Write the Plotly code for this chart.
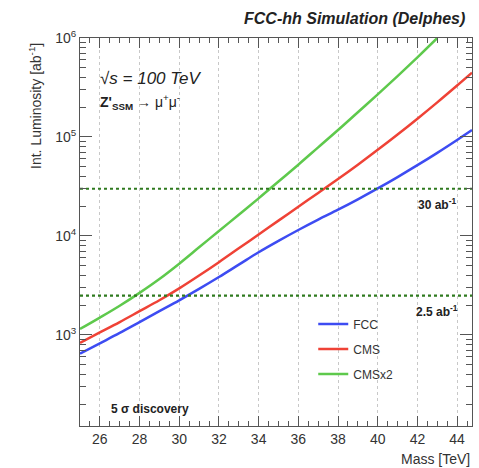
import math
import plotly.graph_objects as go

mass = [25, 26, 27, 28, 29, 30, 31, 32, 33, 34, 35, 36, 37, 38, 39, 40, 41, 42, 43, 44, 44.75]
fcc = [646, 822, 1047, 1349, 1738, 2239, 2917, 3846, 5129, 6839, 8913, 11482, 14622,
       18408, 23442, 30200, 39355, 51880, 69183, 93325, 117490]
cms = [832, 1059, 1349, 1738, 2239, 2951, 3981, 5433, 7499, 10351, 14289, 19724, 27227,
       37584, 52481, 74131, 105925, 153109, 223872, 331131, 446684]
mass_x2 = [25, 26, 27, 28, 29, 30, 31, 32, 33, 34, 35, 36, 37, 38, 39, 40, 41, 42, 43]
cmsx2 = [1148, 1496, 1972, 2661, 3673, 5248, 7674, 11220, 16406, 23988, 35481, 52481,
         78524, 117490, 177828, 269153, 412098, 638263, 1000000]

lumi_lines = [30000, 2500]
lumi_labels = ["30 ab<sup>-1</sup>", "2.5 ab<sup>-1</sup>"]

x_ticks = [26, 28, 30, 32, 34, 36, 38, 40, 42, 44]
y_ticks = [1e3, 1e4, 1e5, 1e6]
y_ticktext = ["10<sup>3</sup>", "10<sup>4</sup>", "10<sup>5</sup>", "10<sup>6</sup>"]
y_minor = [m * 10 ** e for e in range(2, 6) for m in range(2, 10)]

FONT = "Liberation Sans, Arial, Helvetica, sans-serif"

fig = go.Figure()
fig.add_trace(go.Scatter(x=mass, y=fcc, mode="lines", name="FCC", legendgroup="a",
                         line=dict(color="#3d4cf2", width=2.5, shape="spline", smoothing=1)))
fig.add_trace(go.Scatter(x=mass, y=cms, mode="lines", name="CMS", legendgroup="b",
                         line=dict(color="#ef4236", width=2.5, shape="spline", smoothing=1)))
fig.add_trace(go.Scatter(x=mass_x2, y=cmsx2, mode="lines", name="CMSx2", legendgroup="c",
                         line=dict(color="#5ec94c", width=2.5, shape="spline", smoothing=1)))

for v, lab in zip(lumi_lines, lumi_labels):
    fig.add_trace(go.Scatter(x=[25, 44.75], y=[v, v], mode="lines", showlegend=False,
                             line=dict(color="#2f7a1f", width=2.2, dash="dot")))
    fig.add_annotation(x=43.0, y=math.log10(v), xref="x", yref="y", yshift=-15,
                       text="<b>%s</b>" % lab,
                       showarrow=False, xanchor="center", yanchor="middle",
                       font=dict(size=12, color="#222", family=FONT))

fig.update_layout(
    width=479, height=468,
    margin=dict(l=80, r=7, t=38, b=42),
    paper_bgcolor="white", plot_bgcolor="white",
    font=dict(family=FONT, color="#333", size=14),
    legend=dict(x=0.595, y=0.3, xanchor="left", yanchor="top",
                bgcolor="rgba(0,0,0,0)", font=dict(size=12, color="#333"),
                itemwidth=30, tracegroupgap=6),
)

fig.update_xaxes(
    range=[25, 44.75], tickvals=x_ticks, ticks="inside", ticklen=10, tickcolor="#555",
    showline=True, linecolor="#555", linewidth=1, mirror="ticks",
    showgrid=True, gridcolor="#c8c8c8", griddash="dot", gridwidth=1,
    tickfont=dict(size=14, color="#333"), zeroline=False,
    minor=dict(dtick=0.5, tick0=25, ticks="inside", ticklen=5, tickcolor="#555", showgrid=False),
)
fig.update_yaxes(
    type="log", range=[2.08, 6.0], tickvals=y_ticks, ticktext=y_ticktext,
    ticks="inside", ticklen=12, tickcolor="#555",
    showline=True, linecolor="#555", linewidth=1, mirror="ticks",
    showgrid=False, tickfont=dict(size=14, color="#333"), zeroline=False,
    minor=dict(tickvals=y_minor, ticks="inside", ticklen=6, tickcolor="#555", showgrid=False),
)

fig.add_annotation(x=1.0, y=1.0, xref="paper", yref="paper", yshift=30, xshift=-5,
                   text="<b><i>FCC-hh Simulation (Delphes)</i></b>", showarrow=False,
                   xanchor="right", yanchor="top", font=dict(size=16, color="#222", family=FONT))
fig.add_annotation(x=0.045, y=0.895, xref="paper", yref="paper",
                   text="<i>\u221As = 100 TeV</i>", showarrow=False,
                   xanchor="left", yanchor="middle", font=dict(size=17, color="#222", family=FONT))
fig.add_annotation(x=0.045, y=0.835, xref="paper", yref="paper",
                   text="<b>Z'</b><sub><b>SSM</b></sub> \u2192 \u03bc<sup>+</sup>\u03bc<sup>-</sup>",
                   showarrow=False, xanchor="left", yanchor="middle",
                   font=dict(size=14, color="#222", family=FONT))
fig.add_annotation(x=0.075, y=0.045, xref="paper", yref="paper",
                   text="<b>5 \u03c3 discovery</b>", showarrow=False,
                   xanchor="left", yanchor="middle", font=dict(size=12, color="#222", family=FONT))
fig.add_annotation(x=1.0, y=0, xref="paper", yref="paper", yshift=-23,
                   text="Mass [TeV]", showarrow=False, xanchor="right", yanchor="top",
                   font=dict(size=14, color="#333", family=FONT))
fig.add_annotation(x=0, y=1.0, xref="paper", yref="paper", xshift=-45, yshift=-3,
                   text="Int. Luminosity [ab<sup>-1</sup>]", showarrow=False, textangle=-90,
                   xanchor="center", yanchor="top", font=dict(size=14, color="#333", family=FONT))

fig.write_html("out.html")
